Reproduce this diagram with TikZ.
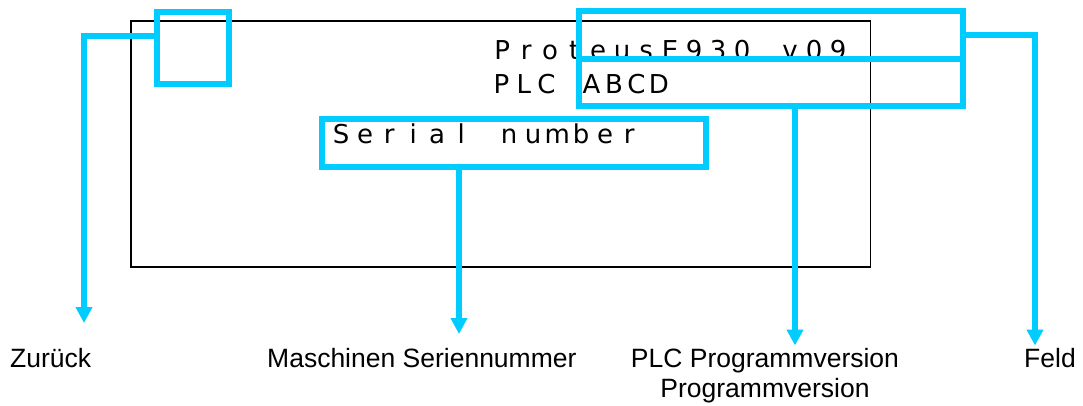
\documentclass[tikz,border=0pt]{standalone}
\usepackage{fontspec}
\setmainfont{Liberation Sans}
\newfontfamily\lcdfont{DejaVu Sans}
\usetikzlibrary{arrows.meta}
\definecolor{cy}{RGB}{0,204,255}
\newdimen\lcdpitch
\newcommand\lcdtext[2]{\lcdpitch=#1pt\lcdloop#2\relax}
\def\lcdloop#1{\ifx\relax#1\else\makebox[\lcdpitch][c]{#1}\expandafter\lcdloop\fi}
\begin{document}
\begin{tikzpicture}[x=1pt,y=-1pt,
  hlbox/.style={draw=cy, line width=6pt, inner sep=0pt, rectangle},
  conn/.style={draw=cy, line width=6pt, -{Triangle[width=16pt,length=16pt]}},
  lab/.style={font=\fontsize{26.5}{30}\selectfont, inner sep=0pt, anchor=base west},
  lcd/.style={font=\lcdfont\fontsize{26}{30}\selectfont, inner sep=0pt, anchor=base west},
  screen/.style={draw=black, line width=1.5pt, inner sep=0pt, rectangle}]
\useasboundingbox (0,0) rectangle (1083,406);
% display frame
\node[screen, minimum width=739.7pt, minimum height=246pt] (scr) at (500.85,144) {};
% display texts
\node[lcd] (t1) at (490,60) {\lcdtext{24}{ProteusE930~v09}};
\node[lcd] (t2) at (490,94) {\lcdtext{22.5}{PLC~ABCD}};
\node[lcd] (t3) at (329,144) {\lcdtext{24}{Serial~number}};
% highlight boxes
\node[hlbox, minimum width=72pt, minimum height=72pt] (zbox) at (193,48) {};
\node[hlbox, minimum width=384pt, minimum height=48pt] (fbox) at (771,35) {};
\node[hlbox, minimum width=384pt, minimum height=47pt] (pbox) at (771,82.5) {};
\node[hlbox, minimum width=384pt, minimum height=48pt] (sbox) at (514,143) {};
% arrow ends
\coordinate (zt) at (84,323);
\coordinate (st) at (459,334);
\coordinate (pt) at (795,345.5);
\coordinate (ft) at (1035,345.5);
% connectors
\draw[conn] ([yshift=12pt]zbox.west) -| (zt);
\draw[conn] (sbox.south -| st) -- (st);
\draw[conn] (pbox.south -| pt) -- (pt);
\draw[conn] (fbox.east) -| (ft);
% labels
\node[lab] (lz) at (10,367) {Zurück};
\node[lab] (ls) at (267,367) {Maschinen Seriennummer};
\node[lab, anchor=north, align=center] (lp) at (765,348) {PLC Programmversion\\Programmversion};
\node[lab] (lf) at (1024,367) {Feld};
\end{tikzpicture}
\end{document}
